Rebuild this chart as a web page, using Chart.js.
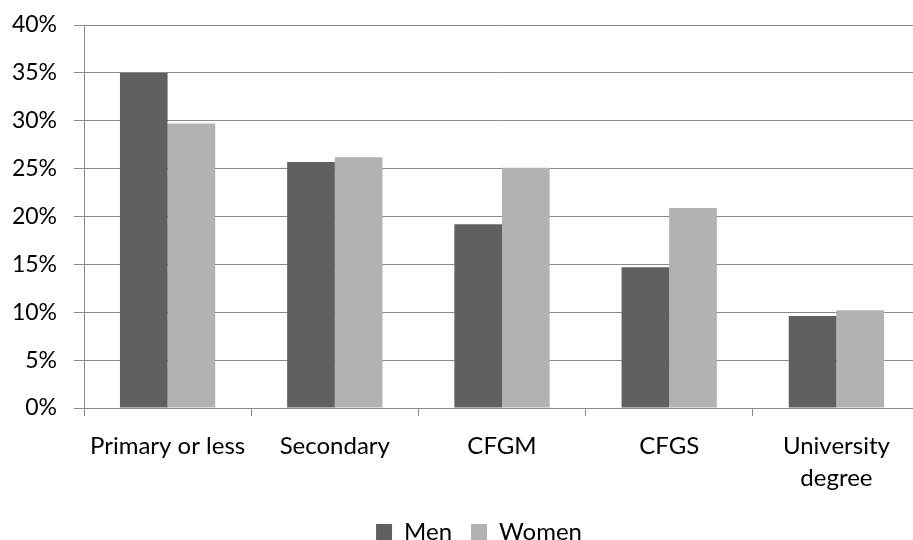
<!DOCTYPE html>
<html>
<head>
<meta charset="utf-8">
<script src="https://cdn.jsdelivr.net/npm/chart.js@4/dist/chart.umd.min.js"></script>
<style>
  html, body { margin: 0; padding: 0; background: #fff; overflow: hidden; }
  #wrap { position: relative; width: 958px; height: 554px; }
</style>
</head>
<body>
<div id="wrap"><canvas id="chart" width="958" height="554"></canvas></div>
<script>
// Share of each group by education level
const categories = ['Primary or less', 'Secondary', 'CFGM', 'CFGS', ['University', 'degree']];
const men   = [35.0, 25.7, 19.2, 14.7, 9.6];
const women = [29.7, 26.2, 25.1, 20.9, 10.2];
const seriesNames = ['Men', 'Women'];
const yTicks = [0, 5, 10, 15, 20, 25, 30, 35, 40];

const FAMILY = 'Lato, "Open Sans", sans-serif';
const AXIS_GREY = '#8a8a8a';

new Chart(document.getElementById('chart'), {
  type: 'bar',
  data: {
    labels: categories,
    datasets: [
      { label: seriesNames[0], data: men,   backgroundColor: '#606060', borderWidth: 0 },
      { label: seriesNames[1], data: women, backgroundColor: '#b2b2b2', borderWidth: 0 }
    ]
  },
  options: {
    responsive: false,
    animation: false,
    layout: { padding: { top: 25, right: 0, bottom: 0, left: 0 } },
    datasets: { bar: { barPercentage: 1.0, categoryPercentage: 0.57 } },
    plugins: {
      legend: {
        position: 'bottom',
        labels: {
          color: '#000',
          font: { family: FAMILY, size: 24 },
          boxWidth: 16,
          boxHeight: 16,
          padding: 19
        }
      },
      tooltip: { enabled: false }
    },
    scales: {
      x: {
        offset: true,
        grid: {
          offset: true,
          drawOnChartArea: false,
          drawTicks: true,
          tickLength: 8,
          color: AXIS_GREY,
          lineWidth: 1
        },
        border: { display: true, color: AXIS_GREY, width: 1 },
        ticks: {
          color: '#000',
          font: { family: FAMILY, size: 24, lineHeight: 1.33 },
          padding: 14,
          maxRotation: 0,
          autoSkip: false
        },
        afterFit: s => { s.height = 93; }
      },
      y: {
        min: 0,
        max: 40,
        afterBuildTicks: s => { s.ticks = yTicks.map(v => ({ value: v })); },
        grid: {
          drawTicks: true,
          tickLength: 10,
          color: AXIS_GREY,
          lineWidth: 1
        },
        border: { display: true, color: AXIS_GREY, width: 1 },
        ticks: {
          color: '#000',
          font: { family: FAMILY, size: 23 },
          padding: 17,
          callback: v => v + '%'
        },
        afterFit: s => {
          s.width = 84;
          s.paddingTop = 0;
          s.paddingBottom = 0;
        }
      },
      // empty right-hand margin so the plot stops short of the canvas edge
      yRight: {
        position: 'right',
        display: true,
        grid: { display: false, drawTicks: false },
        border: { display: false },
        ticks: { display: false },
        afterFit: s => { s.width = 38; }
      }
    }
  }
});
</script>
</body>
</html>
